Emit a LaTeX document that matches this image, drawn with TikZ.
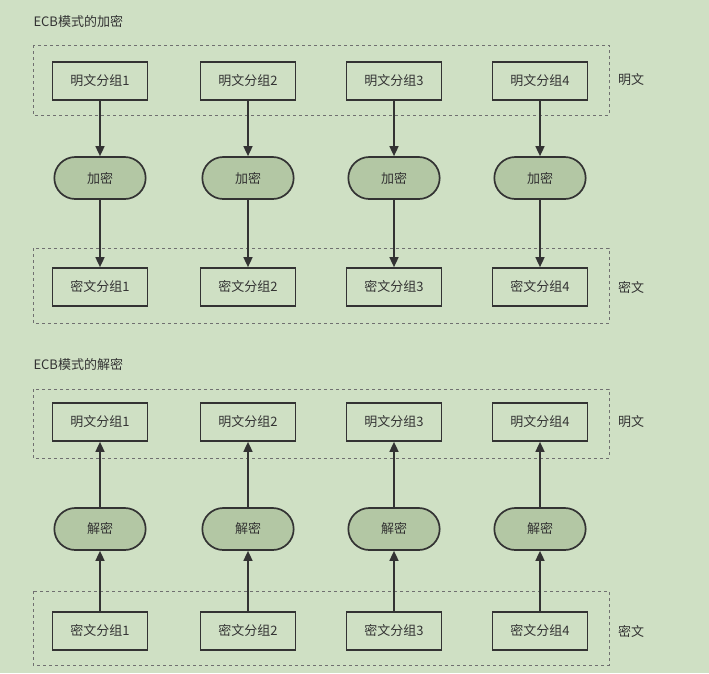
\documentclass[tikz,border=0pt]{standalone}
\usepackage{fontspec}
\setmainfont{Noto Sans CJK SC}
\usetikzlibrary{arrows.meta,shapes.misc}
\definecolor{bg}{HTML}{CFE0C4}
\definecolor{pill}{HTML}{B3C7A4}
\definecolor{ink}{HTML}{333333}
\begin{document}
\begin{tikzpicture}[x=1pt,y=-1pt,
  blk/.style={draw=ink,line width=1.7pt,minimum width=95pt,minimum height=38pt,font=\fontsize{13}{15}\selectfont,text=ink},
  op/.style={draw=ink,line width=1.7pt,fill=pill,rounded rectangle,minimum width=98pt,minimum height=42pt,font=\fontsize{13}{15}\selectfont,text=ink},
  grp/.style={draw=ink!70,dashed,line width=0.6pt},
  lbl/.style={font=\fontsize{13}{15}\selectfont,text=ink},
  arr/.style={draw=ink,line width=1.6pt,-{Triangle[length=10pt,width=9pt]}}]
\fill[bg] (0,0) rectangle (709,673);
\useasboundingbox (0,0) rectangle (709,673);
\node[lbl,anchor=west] (t1) at (30,22) {ECB模式的加密};
\node[lbl,anchor=west] (t2) at (30,365) {ECB模式的解密};
\draw[grp] (33,45) rectangle (609,115);
\draw[grp] (33,248) rectangle (609,323);
\draw[grp] (33,389) rectangle (609,458);
\draw[grp] (33,591) rectangle (609,665);
\node[lbl] (l1) at (631,80) {明文};
\node[lbl] (l2) at (631,287) {密文};
\node[lbl] (l3) at (631,422) {明文};
\node[lbl] (l4) at (631,631) {密文};
\foreach \i/\x in {1/100,2/248,3/394,4/540}{
  \node[blk] (p\i) at (\x,81) {明文分组\i};
  \node[op] (e\i) at (\x,178) {加密};
  \node[blk] (c\i) at (\x,287) {密文分组\i};
  \draw[arr] (p\i) -- (e\i);
  \draw[arr] (e\i) -- (c\i);
  \node[blk] (q\i) at (\x,422) {明文分组\i};
  \node[op] (d\i) at (\x,529) {解密};
  \node[blk] (k\i) at (\x,631) {密文分组\i};
  \draw[arr] (k\i) -- (d\i);
  \draw[arr] (d\i) -- (q\i);
}
\end{tikzpicture}
\end{document}
